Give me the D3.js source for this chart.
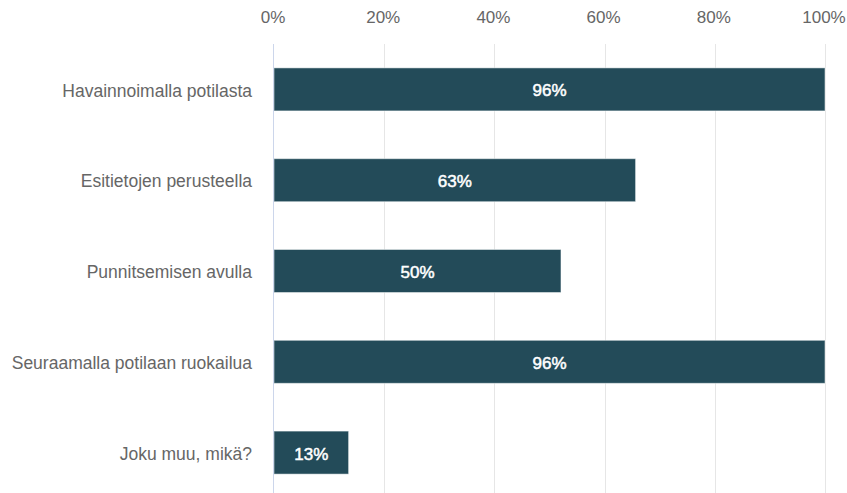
<!DOCTYPE html>
<html>
<head>
<meta charset="utf-8">
<script src="https://cdn.jsdelivr.net/npm/d3@7"></script>
<style>
  body { margin: 0; background: #fff; }
  text { font-family: "Liberation Sans", Arial, sans-serif; }
</style>
</head>
<body>
<div id="chart"></div>
<script>
const categories = ['Havainnoimalla potilasta', 'Esitietojen perusteella', 'Punnitsemisen avulla', 'Seuraamalla potilaan ruokailua', 'Joku muu, mikä?']
const values = [96, 63, 50, 96, 13]
const tickValues = [0, 20, 40, 60, 80, 100]

const width = 847
const height = 493
const plotLeft = 274
const plotRight = 825
const plotTop = 44
const plotBottom = 498

const svg = d3.select('#chart').append('svg')
              .attr('width', width)
              .attr('height', height)

// axis scale runs to 100%, bars are stretched to the largest value
const x = d3.scaleLinear().domain([0, 100]).range([plotLeft, plotRight])
const xBar = d3.scaleLinear().domain([0, d3.max(values)]).range([plotLeft, plotRight])
const y = d3.scaleBand().domain(categories).range([plotTop, plotBottom])
            .paddingInner(0.526).paddingOuter(0.263)

// grid
svg.append('g').selectAll('line')
   .data(tickValues.slice(1))
   .join('line')
   .attr('x1', d => Math.round(x(d)) + 0.5)
   .attr('x2', d => Math.round(x(d)) + 0.5)
   .attr('y1', plotTop)
   .attr('y2', height)
   .attr('stroke', '#e6e6e6')

// top tick labels
svg.append('g').selectAll('text')
   .data(tickValues)
   .join('text')
   .attr('x', d => x(d) - 1)
   .attr('y', 23)
   .attr('text-anchor', 'middle')
   .attr('fill', '#666')
   .style('font-size', '17px')
   .text(d => d + '%')

// bars
svg.append('g').selectAll('rect')
   .data(values)
   .join('rect')
   .attr('x', plotLeft)
   .attr('y', (d, i) => y(categories[i]))
   .attr('width', d => xBar(d) - plotLeft)
   .attr('height', y.bandwidth())
   .attr('fill', '#234b59')
   .attr('stroke', '#ffffff')
   .attr('stroke-opacity', 0.5)
   .attr('stroke-width', 1)

// value labels
svg.append('g').selectAll('text')
   .data(values)
   .join('text')
   .attr('x', d => (plotLeft + xBar(d)) / 2)
   .attr('y', (d, i) => y(categories[i]) + y.bandwidth() / 2 + 1)
   .attr('dy', '0.35em')
   .attr('text-anchor', 'middle')
   .attr('fill', '#fff')
   .attr('stroke', '#fff')
   .attr('stroke-width', 0.5)
   .style('font-size', '17px')
   .text(d => d + '%')

// category labels
svg.append('g').selectAll('text')
   .data(categories)
   .join('text')
   .attr('x', 252)
   .attr('y', d => y(d) + y.bandwidth() / 2 + 1)
   .attr('dy', '0.35em')
   .attr('text-anchor', 'end')
   .attr('fill', '#666')
   .style('font-size', '17.5px')
   .text(d => d)

// left axis line
svg.append('line')
   .attr('x1', plotLeft - 0.5)
   .attr('x2', plotLeft - 0.5)
   .attr('y1', plotTop)
   .attr('y2', height)
   .attr('stroke', '#ccd6eb')
</script>
</body>
</html>
